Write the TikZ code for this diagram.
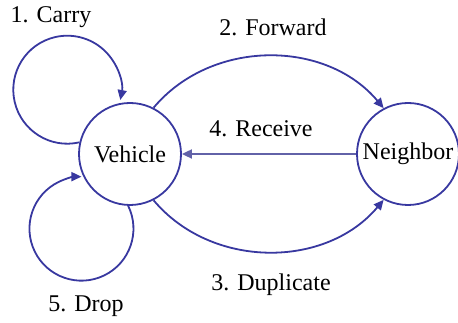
\documentclass[tikz,border=0pt]{standalone}
\usepackage{fontspec}
\setmainfont{Liberation Serif}
\newfontfamily\diagfont{Liberation Serif}
\usetikzlibrary{arrows.meta}
\definecolor{edgeblue}{RGB}{56,56,160}
\definecolor{recvblue}{RGB}{98,98,168}
\begin{document}
\begin{tikzpicture}[x=1pt,y=1pt,
  state/.style={circle,draw=edgeblue,line width=1.8pt,minimum size=102pt,inner sep=0pt,font=\diagfont\fontsize{24}{27}\selectfont},
  lbl/.style={font=\diagfont\fontsize{24}{27}\selectfont,inner sep=0pt},
  edge/.style={draw=edgeblue,line width=1.8pt,-{Triangle[length=10pt,width=9pt]},fill=none},
  recv/.style={draw=recvblue,line width=1.8pt,-{Triangle[length=10pt,width=9pt]}}]
\useasboundingbox (0,0) rectangle (458,323);
\node[state] (V) at (130,169) {Vehicle};
\node[state] (N) at (408,169) {Neighbor};
\node[lbl] (l1) at (51,306) {1. Carry};
\node[lbl] (l2) at (273,296) {2. Forward};
\node[lbl] (l3) at (271,38) {3. Duplicate};
\node[lbl] (l4) at (261,194) {4. Receive};
\node[lbl] (l5) at (86,17) {5. Drop};
% carry loop
\draw[edge] (V.167) arc[start angle=-77, end angle=-371, radius=54];
% drop loop
\draw[edge] (V.268) arc[start angle=26, end angle=-270, radius=52];
% forward
\draw[edge] (V.63) to[out=50,in=130] (N.118);
% duplicate
\draw[edge] (V.-63) to[out=-50,in=-130] (N.-118);
% receive
\draw[recv] (N.west) -- (V.east);
\end{tikzpicture}
\end{document}
